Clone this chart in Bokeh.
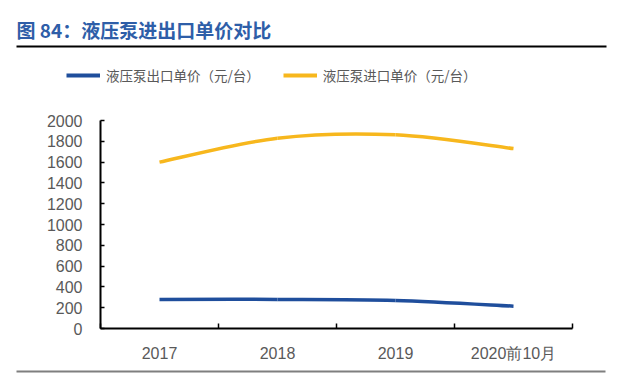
from bokeh.plotting import figure
from bokeh.models import (Range1d, LinearAxis, FixedTicker, Label, BoxAnnotation,
                          Legend, LegendItem)
from bokeh.embed import file_html
from bokeh.resources import INLINE

# ---- data ----
categories = ["2017", "2018", "2019", "2020前10月"]
export_price = [278, 280, 270, 215]
import_price = [1600, 1830, 1862, 1730]
y_ticks = [0, 200, 400, 600, 800, 1000, 1200, 1400, 1600, 1800, 2000]
y_max = 2000
title_text = "图 84：液压泵进出口单价对比"
series_names = ["液压泵出口单价（元/台）", "液压泵进口单价（元/台）"]
series_colors = ["#1F4E9C", "#F7B71D"]

xs = [i + 0.5 for i in range(len(categories))]
bounds = list(range(len(categories) + 1))

# ---- layout (canvas pixels) ----
W, H = 640, 376
plot_left, plot_right, plot_top, plot_bottom = 100, 572, 120, 328


def smooth_segments(xv, yv):
    """Bezier control points (Excel-style smoothing) from the data points."""
    pts = list(zip(xv, yv))
    n = len(pts)
    out = dict(x0=[], y0=[], x1=[], y1=[], cx0=[], cy0=[], cx1=[], cy1=[])
    for i in range(n - 1):
        p0 = pts[i - 1] if i > 0 else pts[i]
        p1 = pts[i]
        p2 = pts[i + 1]
        p3 = pts[i + 2] if i + 2 < n else pts[i + 1]
        out["x0"].append(p1[0]); out["y0"].append(p1[1])
        out["x1"].append(p2[0]); out["y1"].append(p2[1])
        out["cx0"].append(p1[0] + (p2[0] - p0[0]) / 6)
        out["cy0"].append(p1[1] + (p2[1] - p0[1]) / 6)
        out["cx1"].append(p2[0] - (p3[0] - p1[0]) / 6)
        out["cy1"].append(p2[1] - (p3[1] - p1[1]) / 6)
    return out


ncat = len(categories)
px_per_x = (plot_right - plot_left) / ncat
px_per_y = (plot_bottom - plot_top) / y_max
x_range = Range1d(-plot_left / px_per_x, (W - plot_left) / px_per_x)
y_range = Range1d(-(H - plot_bottom) / px_per_y, plot_bottom / px_per_y)

p = figure(width=W, height=H, output_backend="svg", toolbar_location=None,
           x_range=x_range, y_range=y_range,
           x_axis_type=None, y_axis_type=None,
           min_border=0)
p.outline_line_color = None
p.background_fill_color = "white"
p.border_fill_color = "white"

tick_font = "Liberation Sans"
label_color = "#595959"

yaxis = LinearAxis(ticker=FixedTicker(ticks=y_ticks), fixed_location=0, bounds=(0, y_max))
yaxis.axis_line_color = "black"
yaxis.axis_line_width = 2
yaxis.major_tick_line_color = "black"
yaxis.major_tick_line_width = 1.5
yaxis.major_tick_in = 4
yaxis.major_tick_out = 0
yaxis.minor_tick_line_color = None
yaxis.major_label_text_font = tick_font
yaxis.major_label_text_font_size = "16px"
yaxis.major_label_text_color = label_color
yaxis.major_label_standoff = 18
p.add_layout(yaxis, "left")

xaxis = LinearAxis(ticker=FixedTicker(ticks=bounds), fixed_location=0, bounds=(0, ncat))
xaxis.axis_line_color = "black"
xaxis.axis_line_width = 2
xaxis.major_tick_line_color = "black"
xaxis.major_tick_line_width = 1.5
xaxis.major_tick_in = 5
xaxis.major_tick_out = 0
xaxis.minor_tick_line_color = None
xaxis.major_label_overrides = {b: "" for b in bounds}
xaxis.major_label_text_font_size = "1px"
p.add_layout(xaxis, "below")

xlab = LinearAxis(ticker=FixedTicker(ticks=xs), fixed_location=0)
xlab.axis_line_color = None
xlab.major_tick_line_color = None
xlab.minor_tick_line_color = None
xlab.major_label_overrides = {x: c for x, c in zip(xs, categories)}
xlab.major_label_text_font = tick_font
xlab.major_label_text_font_size = "16px"
xlab.major_label_text_color = label_color
xlab.major_label_standoff = 10
p.add_layout(xlab, "below")

renderers = []
for vals, color in zip([export_price, import_price], series_colors):
    seg = smooth_segments(xs, vals)
    p.bezier(line_color=color, line_width=3.5, **seg)
    # single-point line: invisible in the plot, used only for the legend swatch
    renderers.append(p.line(x=xs[:1], y=vals[:1], line_color=color, line_width=4))

legend = Legend(items=[LegendItem(label=n, renderers=[r]) for n, r in zip(series_names, renderers)],
                orientation="horizontal", location=(66, H - 85),
                border_line_color=None, background_fill_alpha=0,
                label_text_font="Noto Sans CJK SC", label_text_font_size="13.5px",
                label_text_color=label_color, glyph_width=34, glyph_height=20,
                label_height=20, label_standoff=6, spacing=23, padding=0, margin=0)
p.add_layout(legend)

p.add_layout(Label(x=16, y=H - 29, x_units="screen", y_units="screen", text=title_text,
                   text_font="Noto Sans CJK SC", text_font_size="19px", text_font_style="bold",
                   text_color="#2E5EA8", text_baseline="middle"))
p.add_layout(BoxAnnotation(left=16, right=606, bottom=H - 47, top=H - 45,
                           left_units="screen", right_units="screen",
                           bottom_units="screen", top_units="screen",
                           fill_color="black", fill_alpha=1, line_color=None))
p.add_layout(BoxAnnotation(left=16, right=605, bottom=H - 372, top=H - 370,
                           left_units="screen", right_units="screen",
                           bottom_units="screen", top_units="screen",
                           fill_color="#7F7F7F", fill_alpha=1, line_color=None))

open("out.html", "w").write(file_html(p, INLINE))
